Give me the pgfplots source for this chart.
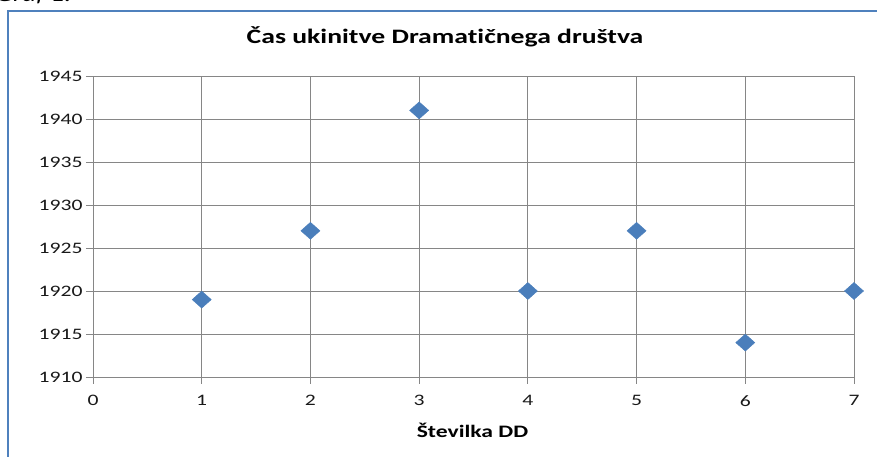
\documentclass[border=0pt]{standalone}
\usepackage{fontspec}
\setmainfont{Carlito}[FakeStretch=1.35, Ligatures=NoCommon]
\usepackage{pgfplots}
\pgfplotsset{compat=1.18}
\definecolor{gridc}{RGB}{134,134,134}
\definecolor{mk}{RGB}{74,126,187}
\definecolor{framec}{RGB}{79,129,189}
\begin{document}
\begin{tikzpicture}[x=1pt,y=1pt]
\useasboundingbox (0,0) rectangle (877,457);
\begin{scope}
\clip (0,0) rectangle (877,457);
\node[anchor=base west, inner sep=0pt, font=\fontsize{20}{24}\selectfont\itshape] at (-4,455) {Graf 1:};
\end{scope}
\draw[framec, line width=2pt] (8,0) -- (8,446) -- (877,446);
\begin{axis}[
  at={(93pt,80pt)}, anchor=south west,
  scale only axis, width=761pt, height=301pt,
  xmin=0, xmax=7, ymin=1910, ymax=1945,
  xtick={0,...,7}, ytick={1910,1915,...,1945},
  grid=major, grid style={gridc, line width=0.8pt},
  axis line style={gridc, line width=0.8pt},
  tick style={gridc, line width=0.8pt},
  tick align=outside, tick pos=left, major tick length=7pt,
  /pgf/number format/assume math mode=true,
  /pgf/number format/set thousands separator={},
  ticklabel style={font=\fontsize{16}{19}\selectfont, text=black!90},
  xticklabel style={yshift=-8pt},
  title={\textbf{Čas ukinitve Dramatičnega društva}},
  title style={font=\fontsize{20.5}{24}\selectfont, at={(0.4626,1)}, anchor=base, yshift=26pt},
  xlabel={\textbf{Številka DD}},
  xlabel style={font=\fontsize{17.5}{21}\selectfont, anchor=base, at={(0.4987,0)}, yshift=-60pt},
]
\addplot[only marks, mark=diamond*, mark size=8.5pt, mark options={xscale=1.5, fill=mk, draw=mk}]
  coordinates {(1,1919) (2,1927) (3,1941) (4,1920) (5,1927) (6,1914) (7,1920)};
\end{axis}
\end{tikzpicture}
\end{document}
